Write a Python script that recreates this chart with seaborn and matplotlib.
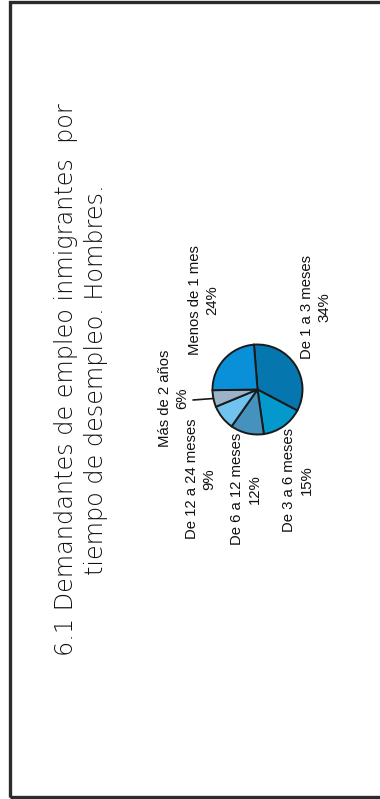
import matplotlib
matplotlib.use("Agg")
import matplotlib.pyplot as plt
import seaborn as sns
from matplotlib.patches import Rectangle

# data (clockwise from the top of the pie, as drawn in the picture)
categories = ["De 1 a 3 meses", "De 3 a 6 meses", "De 6 a 12 meses",
              "De 12 a 24 meses", "Más de 2 años", "Menos de 1 mes"]
shares = [34, 15, 12, 9, 6, 24]
colors = ["#0677ae", "#0499cc", "#4592be", "#6fc3ee", "#9ab3c9", "#0a90d8"]

title = "6.1 Demandantes de empleo inmigrantes  por\ntiempo de desempleo. Hombres."

# label block centres in picture pixels (x, y from top)
label_pos = {
    "De 1 a 3 meses": (316, 307),
    "De 3 a 6 meses": (298, 480),
    "De 6 a 12 meses": (246, 489),
    "De 12 a 24 meses": (201, 479),
    "Más de 2 años": (174, 398),
    "Menos de 1 mes": (204, 300),
}

W, H = 380, 799


def main():
    sns.set_theme(style="white")
    plt.rcParams["font.family"] = ["Liberation Sans", "DejaVu Sans"]

    fig = plt.figure(figsize=(W / 100, H / 100), dpi=100)
    ax = fig.add_axes([0, 0, 1, 1])

    ax.pie(shares, colors=colors, startangle=94.5, counterclock=False,
           center=(257.5, H - 389.5), radius=45,
           wedgeprops=dict(edgecolor="#1a1a1a", linewidth=1.4))

    ax.set_xlim(0, W)
    ax.set_ylim(0, H)
    ax.set_aspect("equal", adjustable="box")
    ax.axis("off")

    for cat, val in zip(categories, shares):
        x, y = label_pos[cat]
        ax.text(x, H - y, f"{cat}\n{val}%", rotation=90, ha="center",
                va="center", fontsize=10.7, linespacing=1.3, color="#111111",
                rotation_mode="anchor")

    # leader line for the small slice
    ax.plot([193, 213.5], [H - 400, H - 398.5], color="#1a1a1a", lw=1.2)

    ax.text(81, H - 380, title, rotation=90, ha="center", va="center",
            fontsize=17.2, family=["DejaVu Sans"], fontweight="light",
            linespacing=1.3, color="#111111", rotation_mode="anchor")

    ax.add_patch(Rectangle((10, 2), 400, H - 3.5, fill=False,
                           edgecolor="#2b2b2b", linewidth=2.4, clip_on=False))

    fig.savefig("out.png", dpi=100)
    plt.close(fig)


if __name__ == "__main__":
    main()
